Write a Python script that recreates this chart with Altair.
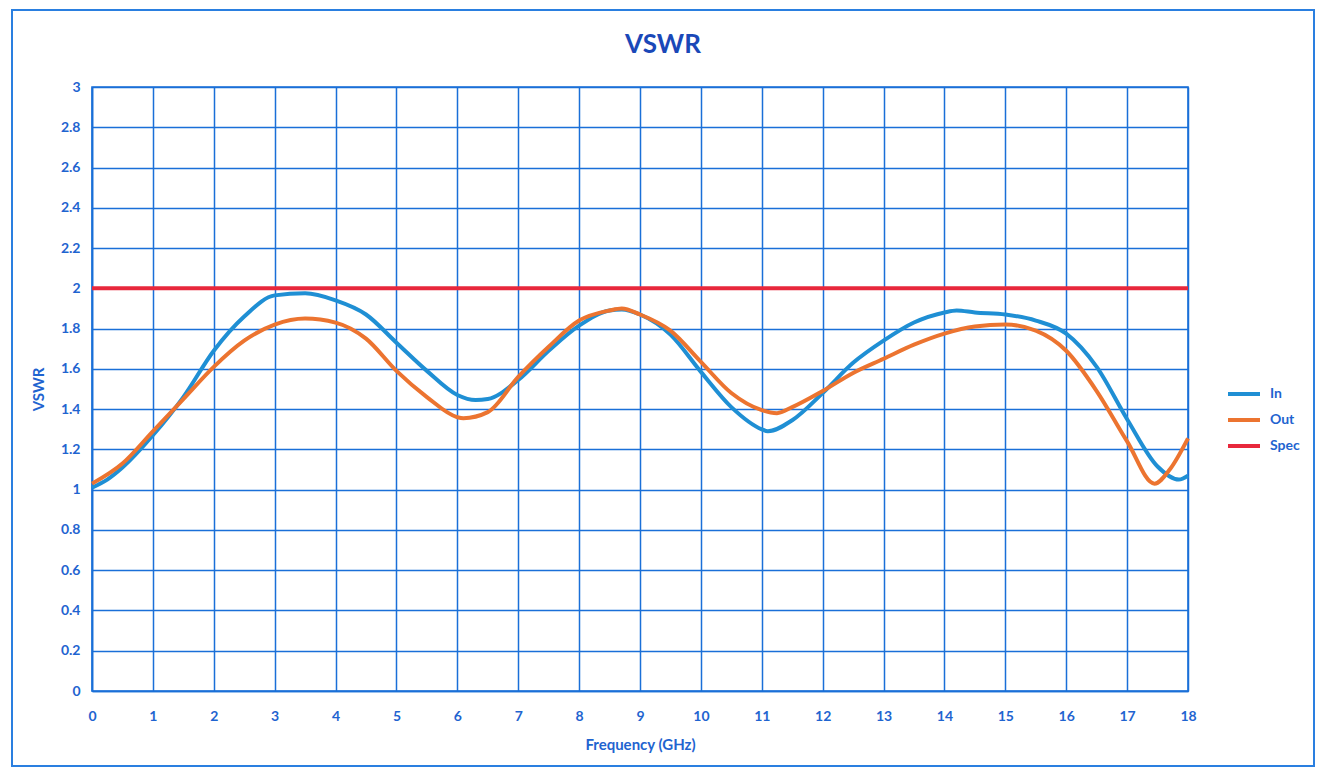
import altair as alt
import pandas as pd

# ---- data ----
in_freq = [0, 0.25, 0.5, 1, 1.5, 2, 2.5, 3, 3.5, 4, 4.5, 5, 5.5, 6, 6.3, 6.5, 7, 7.5, 8, 8.5, 8.7,
           9, 9.5, 10, 10.5, 11, 11.1, 11.5, 12, 12.5, 13, 13.5, 14, 14.2, 14.5, 15, 15.5, 16,
           16.5, 17, 17.5, 17.85, 18]
in_vswr = [1.01, 1.05, 1.11, 1.27, 1.46, 1.69, 1.86, 1.965, 1.975, 1.94, 1.87, 1.73, 1.59, 1.47,
           1.445, 1.45, 1.545, 1.69, 1.815, 1.89, 1.895, 1.87, 1.77, 1.585, 1.41, 1.30, 1.29,
           1.345, 1.48, 1.63, 1.74, 1.83, 1.88, 1.89, 1.88, 1.87, 1.84, 1.775, 1.61, 1.35,
           1.115, 1.05, 1.07]

out_freq = [0, 0.5, 1, 1.5, 2, 2.5, 3, 3.5, 4, 4.5, 5, 5.5, 6, 6.1, 6.5, 7, 7.5, 8, 8.5, 8.7,
            9, 9.5, 10, 10.5, 11, 11.25, 11.5, 12, 12.5, 13, 13.5, 14, 14.5, 15, 15.5, 16,
            16.5, 17, 17.45, 17.7, 18]
out_vswr = [1.03, 1.13, 1.29, 1.45, 1.61, 1.74, 1.82, 1.85, 1.83, 1.75, 1.59, 1.46, 1.36, 1.355,
            1.385, 1.56, 1.71, 1.84, 1.89, 1.90, 1.87, 1.79, 1.635, 1.48, 1.395, 1.38, 1.41,
            1.49, 1.58, 1.65, 1.72, 1.775, 1.81, 1.82, 1.79, 1.69, 1.49, 1.24, 1.03, 1.10, 1.255]

spec_freq = [0, 18]
spec_vswr = [2, 2]

series_names = ["In", "Out", "Spec"]
series_colors = ["#1f8fd4", "#ec7430", "#e8283c"]

x_ticks = list(range(0, 19))
y_ticks = [round(i * 0.2, 1) for i in range(16)]
chart_title = "VSWR"

rows = []
for name, fs, vs in [("In", in_freq, in_vswr), ("Out", out_freq, out_vswr),
                     ("Spec", spec_freq, spec_vswr)]:
    for i, (f, v) in enumerate(zip(fs, vs)):
        rows.append({"series": name, "freq": f, "vswr": v, "order": i})
df = pd.DataFrame(rows)

BLUE = "#1f64d0"
GRID = "#1a6fd8"
FONT = "Lato"

lines = alt.Chart(df).mark_line(strokeWidth=4, interpolate="monotone").encode(
    x=alt.X("freq:Q", title="Frequency (GHz)",
            scale=alt.Scale(domain=[0, 18], nice=False),
            axis=alt.Axis(values=x_ticks, format="d", labelPadding=18, tickSize=0,
                          titlePadding=14, labelFlush=False)),
    y=alt.Y("vswr:Q", title="VSWR",
            scale=alt.Scale(domain=[0, 3], nice=False),
            axis=alt.Axis(values=y_ticks, format="~g", labelPadding=12, tickSize=0,
                          titlePadding=14, labelFlush=False)),
    color=alt.Color("series:N", title=None,
                    scale=alt.Scale(domain=series_names, range=series_colors),
                    legend=alt.Legend(orient="none", legendX=1134, legendY=289,
                                      symbolType="stroke", symbolSize=1024,
                                      symbolStrokeWidth=4, labelFontSize=14,
                                      labelFont=FONT, labelFontWeight="bold",
                                      labelColor=BLUE, rowPadding=0, labelOffset=8)),
    order="order:Q",
    detail="series:N",
)

title_mark = alt.Chart(pd.DataFrame({"t": [chart_title]})).mark_text(
    fontSize=26, font=FONT, fontWeight="bold", color="#1a48b8", baseline="middle", align="center"
).encode(text="t:N", x=alt.value(571), y=alt.value(-42))

frame = alt.Chart(pd.DataFrame({"a": [0]})).mark_rect(
    fill=None, stroke="#2a7fe0", strokeWidth=2
).encode(x=alt.value(-80), x2=alt.value(1222), y=alt.value(-77), y2=alt.value(679))

chart = alt.layer(lines, frame, title_mark).properties(
    width=1096, height=604,
    autosize=alt.AutoSizeParams(type="none"),
    padding={"left": 84, "top": 79, "right": 128, "bottom": 76},
    background="white",
).configure_view(
    stroke=GRID, strokeWidth=1.6
).configure_axis(
    gridColor=GRID, gridWidth=1.5, gridOpacity=1,
    domainColor=GRID, domainWidth=1.6,
    labelColor=BLUE, labelFont=FONT, labelFontWeight="bold", labelFontSize=14,
    titleColor=BLUE, titleFont=FONT, titleFontWeight="bold", titleFontSize=15,
)

chart.save("out.html", embed_options={"renderer": "svg", "actions": False})
